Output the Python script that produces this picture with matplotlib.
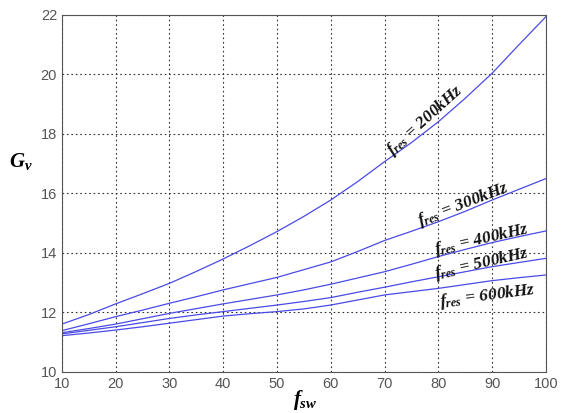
import matplotlib.pyplot as plt
import numpy as np

plt.rcParams['mathtext.fontset'] = 'custom'
plt.rcParams['mathtext.rm'] = 'Liberation Serif:bold'
plt.rcParams['mathtext.it'] = 'Liberation Serif:italic:bold'
plt.rcParams['mathtext.bf'] = 'Liberation Serif:bold'

fsw = [10, 15, 20, 25, 30, 35, 40, 45, 50, 55, 60, 65, 70, 75, 80, 85, 90, 95, 100]
g_200 = [11.61, 11.93, 12.29, 12.63, 12.98, 13.38, 13.8, 14.25, 14.72, 15.23,
         15.78, 16.4, 17.07, 17.71, 18.41, 19.2, 20.04, 21.0, 21.94]
g_300 = [11.39, 11.62, 11.86, 12.08, 12.31, 12.53, 12.76, 12.97, 13.18, 13.44,
         13.7, 14.05, 14.42, 14.73, 15.05, 15.4, 15.78, 16.14, 16.5]
g_400 = [11.32, 11.46, 11.61, 11.79, 11.97, 12.13, 12.29, 12.44, 12.59, 12.76,
         12.95, 13.16, 13.37, 13.62, 13.88, 14.12, 14.35, 14.55, 14.74]
g_500 = [11.28, 11.4, 11.52, 11.66, 11.8, 11.92, 12.03, 12.14, 12.25, 12.37,
         12.5, 12.68, 12.85, 13.03, 13.2, 13.37, 13.54, 13.68, 13.82]
g_600 = [11.22, 11.31, 11.41, 11.52, 11.64, 11.76, 11.88, 11.96, 12.03, 12.12,
         12.25, 12.42, 12.59, 12.7, 12.81, 12.94, 13.07, 13.17, 13.26]

labels = ["200kHz", "300kHz", "400kHz", "500kHz", "600kHz"]
series = [g_200, g_300, g_400, g_500, g_600]
# (x, y, rotation) of each curve label
label_pos = [(77.6, 18.45, 42), (84.6, 15.62, 21), (88.1, 14.46, 12.8),
             (88.1, 13.64, 12.8), (89.2, 12.56, 7.3)]

fig = plt.figure(figsize=(5.68, 4.13), dpi=100)
ax = fig.add_axes([0.109, 0.0993, 0.852, 0.8644])

for g in series:
    ax.plot(fsw, g, color='#4a4ae6', lw=0.9)

for lab, (x, y, r) in zip(labels, label_pos):
    ax.text(x, y, r"$f_{res}$ = " + lab, rotation=r, ha='center', va='center',
            fontsize=12.5, family='Liberation Serif', style='italic', weight='bold',
            rotation_mode='anchor', color='#111111')

ax.set_xlim(10, 100)
ax.set_ylim(10, 22)
ax.set_xticks(np.arange(10, 101, 10))
ax.set_yticks(np.arange(10, 23, 2))
ax.grid(True, color='#333333', linestyle=(0, (1.5, 2.5)), lw=0.8)
ax.tick_params(direction='in', length=0, labelsize=10.5, labelcolor='#555555')
for t in ax.get_xticklabels() + ax.get_yticklabels():
    t.set_family('Liberation Sans')
for s in ax.spines.values():
    s.set_color('#555555')

fig.text(0.036, 0.608, r"$G_{v}$", fontsize=15, ha='center', va='center')
fig.text(0.537, 0.031, r"$f_{sw}$", fontsize=15, ha='center', va='center')

fig.savefig('out.png', dpi=100)
